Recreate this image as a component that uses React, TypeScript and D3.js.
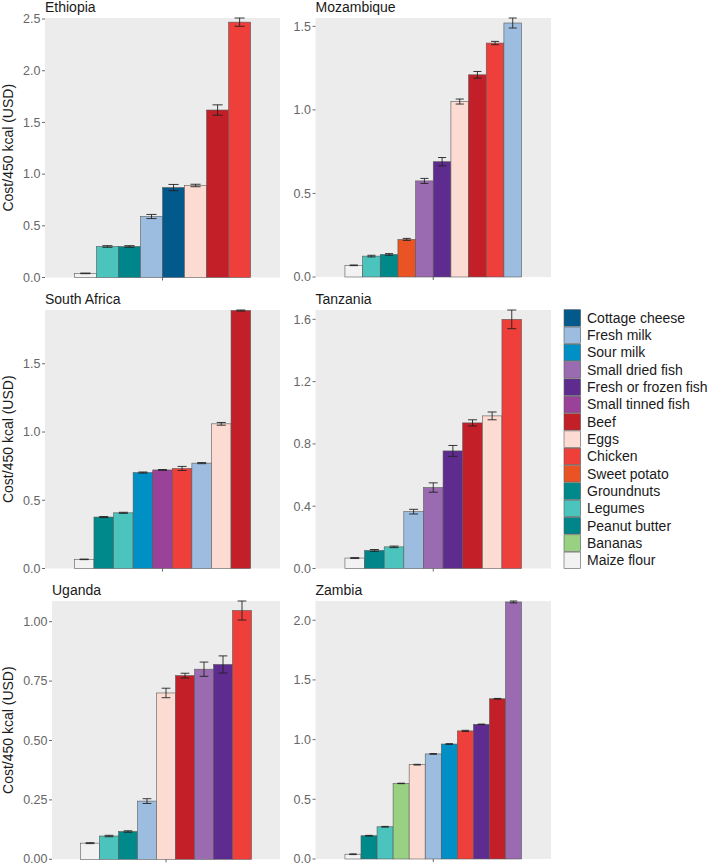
import React from "react";
import * as d3 from "d3";

const fontFamily = "'Liberation Sans', Arial, Helvetica, sans-serif";

// legend order and fill colours
const foods = [
  "Cottage cheese", "Fresh milk", "Sour milk", "Small dried fish", "Fresh or frozen fish",
  "Small tinned fish", "Beef", "Eggs", "Chicken", "Sweet potato", "Groundnuts",
  "Legumes", "Peanut butter", "Bananas", "Maize flour"
];
const foodColors = [
  "#02598c", "#9dbde0", "#0090c6", "#9a6bb0", "#5e2b8f",
  "#9a4299", "#c21f28", "#fcdcd2", "#ee3f3b", "#ea5424", "#00898b",
  "#4bc4bd", "#00858a", "#99d183", "#f2f2f2"
];

// per-country foods (in plotted order), cost and error
const ethiopiaFoods = ["Maize flour", "Legumes", "Peanut butter", "Fresh milk", "Cottage cheese", "Eggs", "Beef", "Chicken"];
const ethiopiaCost = [0.04, 0.30, 0.30, 0.59, 0.87, 0.89, 1.62, 2.47];
const ethiopiaErr = [0.003, 0.008, 0.008, 0.02, 0.03, 0.012, 0.05, 0.04];

const mozambiqueFoods = ["Maize flour", "Legumes", "Groundnuts", "Sweet potato", "Small dried fish", "Fresh or frozen fish", "Eggs", "Beef", "Chicken", "Fresh milk"];
const mozambiqueCost = [0.07, 0.125, 0.135, 0.225, 0.575, 0.69, 1.05, 1.21, 1.40, 1.52];
const mozambiqueErr = [0.002, 0.005, 0.005, 0.006, 0.015, 0.025, 0.015, 0.02, 0.01, 0.03];

const southAfricaFoods = ["Maize flour", "Groundnuts", "Legumes", "Sour milk", "Small tinned fish", "Chicken", "Fresh milk", "Eggs", "Beef"];
const southAfricaCost = [0.067, 0.377, 0.408, 0.703, 0.722, 0.733, 0.772, 1.06, 1.89];
const southAfricaErr = [0.002, 0.004, 0.004, 0.004, 0.003, 0.015, 0.004, 0.01, 0.004];

const tanzaniaFoods = ["Maize flour", "Peanut butter", "Legumes", "Fresh milk", "Small dried fish", "Fresh or frozen fish", "Beef", "Eggs", "Chicken"];
const tanzaniaCost = [0.067, 0.116, 0.139, 0.365, 0.52, 0.755, 0.935, 0.98, 1.60];
const tanzaniaErr = [0.003, 0.006, 0.005, 0.015, 0.03, 0.035, 0.02, 0.025, 0.06];

const ugandaFoods = ["Maize flour", "Legumes", "Groundnuts", "Fresh milk", "Eggs", "Beef", "Small dried fish", "Fresh or frozen fish", "Chicken"];
const ugandaCost = [0.068, 0.098, 0.117, 0.245, 0.70, 0.773, 0.80, 0.82, 1.047];
const ugandaErr = [0.002, 0.003, 0.003, 0.01, 0.02, 0.01, 0.03, 0.036, 0.04];

const zambiaFoods = ["Maize flour", "Groundnuts", "Legumes", "Bananas", "Eggs", "Fresh milk", "Sour milk", "Chicken", "Fresh or frozen fish", "Beef", "Small dried fish"];
const zambiaCost = [0.04, 0.195, 0.27, 0.633, 0.79, 0.88, 0.963, 1.073, 1.128, 1.342, 2.153];
const zambiaErr = [0.003, 0.003, 0.003, 0.002, 0.003, 0.003, 0.003, 0.005, 0.002, 0.003, 0.008];

const ethiopiaTicks = [0, 0.5, 1, 1.5, 2, 2.5];
const mozambiqueTicks = [0, 0.5, 1, 1.5];
const southAfricaTicks = [0, 0.5, 1, 1.5];
const tanzaniaTicks = [0, 0.4, 0.8, 1.2, 1.6];
const ugandaTicks = [0, 0.25, 0.5, 0.75, 1];
const zambiaTicks = [0, 0.5, 1, 1.5, 2];

const W = 708;
const H = 865;

const panels = [
  { name: "Ethiopia", foods: ethiopiaFoods, cost: ethiopiaCost, err: ethiopiaErr, ticks: ethiopiaTicks, fmt: ".1f", x0: 45, x1: 280, y0: 18, y1: 277.5, ytitle: true },
  { name: "Mozambique", foods: mozambiqueFoods, cost: mozambiqueCost, err: mozambiqueErr, ticks: mozambiqueTicks, fmt: ".1f", x0: 315.5, x1: 551, y0: 18, y1: 277, ytitle: false },
  { name: "South Africa", foods: southAfricaFoods, cost: southAfricaCost, err: southAfricaErr, ticks: southAfricaTicks, fmt: ".1f", x0: 45, x1: 280, y0: 310, y1: 568.5, ytitle: true },
  { name: "Tanzania", foods: tanzaniaFoods, cost: tanzaniaCost, err: tanzaniaErr, ticks: tanzaniaTicks, fmt: ".1f", x0: 315.5, x1: 551, y0: 310, y1: 568.5, ytitle: false },
  { name: "Uganda", foods: ugandaFoods, cost: ugandaCost, err: ugandaErr, ticks: ugandaTicks, fmt: ".2f", x0: 52, x1: 280, y0: 601, y1: 859.3, ytitle: true },
  { name: "Zambia", foods: zambiaFoods, cost: zambiaCost, err: zambiaErr, ticks: zambiaTicks, fmt: ".1f", x0: 315.5, x1: 551, y0: 601, y1: 859, ytitle: false }
];

const color = d3.scaleOrdinal<string, string>().domain(foods).range(foodColors);

function Panel({ p }: { p: typeof panels[number] }) {
  const ymax = d3.max(p.cost.map((c, i) => c + p.err[i])) as number;
  const y = d3.scaleLinear().domain([0, ymax]).range([p.y1, p.y0]);
  const pw = p.x1 - p.x0;
  const unit = pw / 1.2;
  const cx = (p.x0 + p.x1) / 2;
  const x = d3.scaleBand<string>().domain(p.foods).range([cx - 0.45 * unit, cx + 0.45 * unit]).padding(0);
  const bw = x.bandwidth();
  const fmt = d3.format(p.fmt);
  const midY = (p.y0 + p.y1) / 2;
  return (
    <g>
      <text x={p.x0} y={p.y0 - 6.5} fontSize={14} fill="#1a1a1a">{p.name}</text>
      <rect x={p.x0} y={p.y0} width={pw} height={p.y1 - p.y0} fill="#ebeceb" />
      {p.foods.map((f, i) => (
        <rect key={f + i} x={x(f)} y={y(p.cost[i])} width={bw} height={y(0) - y(p.cost[i])}
          fill={color(f)} stroke="#5a5a5a" strokeWidth={0.6} />
      ))}
      {p.foods.map((f, i) => {
        const xc = (x(f) as number) + bw / 2;
        const hw = bw * 0.23;
        const ya = y(p.cost[i] + p.err[i]);
        const yb = y(p.cost[i] - p.err[i]);
        return (
          <g key={"e" + i} stroke="#222" strokeWidth={0.9}>
            <line x1={xc} x2={xc} y1={ya} y2={yb} />
            <line x1={xc - hw} x2={xc + hw} y1={ya} y2={ya} />
            <line x1={xc - hw} x2={xc + hw} y1={yb} y2={yb} />
          </g>
        );
      })}
      {p.ticks.map(t => (
        <g key={"t" + t}>
          <line x1={p.x0 - 3} x2={p.x0} y1={y(t)} y2={y(t)} stroke="#444" strokeWidth={0.8} />
          <text x={p.x0 - 4.5} y={Math.min(y(t), H - 6.5)} dy="0.35em" textAnchor="end" fontSize={12.5} fill="#666">{fmt(t)}</text>
        </g>
      ))}
      <line x1={cx} x2={cx} y1={p.y1} y2={p.y1 + 3} stroke="#444" strokeWidth={0.8} />
      {p.ytitle && (
        <text transform={`translate(8.5,${midY}) rotate(-90)`} textAnchor="middle" dy="0.35em" fontSize={14} fill="#1a1a1a">
          Cost/450 kcal (USD)
        </text>
      )}
    </g>
  );
}

export default function App() {
  const ly = d3.scaleBand<string>().domain(foods).range([309.3, 569]).padding(0);
  return (
    <div style={{ position: "absolute", left: 0, top: 0 }}>
      <svg width={W} height={H} style={{ display: "block", background: "#fff", fontFamily }}>
        {panels.map(p => <Panel key={p.name} p={p} />)}
        {foods.map(f => (
          <g key={"l" + f}>
            <rect x={564} y={(ly(f) as number) + 0.4} width={16.6} height={ly.bandwidth() - 0.8}
              fill={color(f)} stroke="#5a5a5a" strokeWidth={0.6} />
            <text x={587} y={(ly(f) as number) + ly.bandwidth() / 2} dy="0.35em" fontSize={14} fill="#1a1a1a">{f}</text>
          </g>
        ))}
      </svg>
    </div>
  );
}
